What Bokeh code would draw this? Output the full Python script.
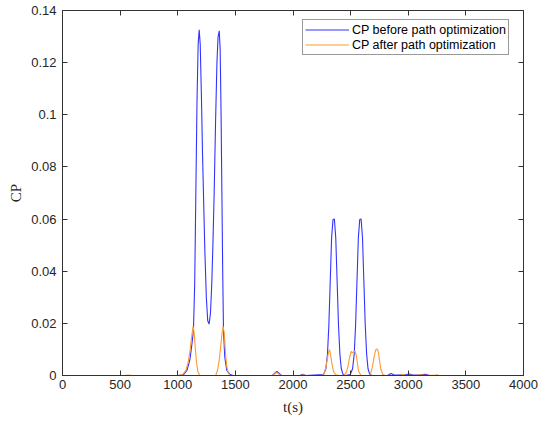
from bokeh.plotting import figure
from bokeh.models import (Range1d, FixedTicker, LinearAxis, CustomJSTickFormatter,
                          Legend, LegendItem)
from bokeh.embed import file_html
from bokeh.resources import INLINE

# ---- data ----
t_before = [0, 1000, 1050, 1080, 1105, 1120, 1136, 1147, 1157, 1167, 1177, 1186, 1195, 1205,
            1215, 1223, 1235, 1248, 1260, 1272, 1284, 1295, 1305, 1316, 1328, 1340, 1350,
            1360, 1368, 1376, 1383, 1390, 1397, 1408, 1425, 1450, 1480,
            1820, 1840, 1860, 1880, 1900, 2060, 2085, 2110,
            2265, 2285, 2299, 2311, 2323, 2335, 2347, 2359, 2371, 2383, 2395, 2407, 2419, 2434, 2455,
            2497, 2517, 2531, 2543, 2555, 2567, 2579, 2591, 2603, 2615, 2627, 2639, 2651, 2666, 2687,
            2820, 2850, 2875, 2920, 2980, 3010, 3040, 3100, 3150, 3180, 3280]
cp_before = [0, 0, 0.0003, 0.002, 0.006, 0.011, 0.017, 0.035, 0.07, 0.105, 0.127, 0.1326, 0.127, 0.108,
             0.085, 0.07, 0.048, 0.03, 0.021, 0.0197, 0.024, 0.035, 0.05, 0.07, 0.097, 0.12, 0.13,
             0.1322, 0.125, 0.1, 0.07, 0.04, 0.017, 0.007, 0.002, 0.0005, 0,
             0, 0.0008, 0.0016, 0.0008, 0, 0, 0.0005, 0,
             0.0004, 0.0026, 0.0081, 0.0192, 0.036, 0.0528, 0.0598, 0.06, 0.0528, 0.036, 0.0192, 0.0081, 0.0026, 0.0004, 0,
             0.0004, 0.0026, 0.0081, 0.0192, 0.036, 0.0528, 0.0598, 0.06, 0.0528, 0.036, 0.0192, 0.0081, 0.0026, 0.0004, 0,
             0, 0.0008, 0.0003, 0.0002, 0.0004, 0.0006, 0.0002, 0.0003, 0.0005, 0.0001, 0]

t_after = [0, 540, 570, 600, 1000, 1040, 1070, 1090, 1105, 1118, 1133, 1143, 1153, 1163, 1175, 1190,
           1330, 1345, 1360, 1372, 1384, 1394, 1404, 1414, 1424, 1437, 1455,
           1820, 1840, 1858, 1875, 1895, 2070, 2090, 2110,
           2255, 2270, 2285, 2298, 2310, 2317, 2326, 2338, 2352, 2370, 2400,
           2440, 2460, 2475, 2490, 2505, 2515, 2525, 2537, 2548, 2558, 2570, 2590,
           2660, 2675, 2690, 2705, 2718, 2728, 2738, 2750, 2762, 2778, 2800,
           2930, 2955, 2980, 3080, 3110, 3140, 3230, 3250, 3270, 3705]
cp_after = [0, 0, 0.0002, 0, 0, 0.0003, 0.002, 0.005, 0.009, 0.014, 0.019, 0.016, 0.01, 0.005, 0.0015, 0,
            0, 0.002, 0.006, 0.011, 0.016, 0.0189, 0.016, 0.009, 0.004, 0.001, 0,
            0, 0.0006, 0.0012, 0.0006, 0, 0, 0.0003, 0,
            0, 0.0008, 0.003, 0.0065, 0.0093, 0.0099, 0.008, 0.0045, 0.0015, 0.0003, 0,
            0, 0.001, 0.003, 0.0068, 0.0092, 0.0088, 0.009, 0.0094, 0.008, 0.005, 0.0015, 0,
            0, 0.001, 0.0035, 0.0075, 0.0098, 0.0102, 0.0095, 0.006, 0.0025, 0.0005, 0,
            0, 0.0005, 0, 0.0002, 0.0003, 0.0001, 0.0001, 0.0003, 0, 0]

x_ticks = [0, 500, 1000, 1500, 2000, 2500, 3000, 3500, 4000]
y_ticks = [0, 0.02, 0.04, 0.06, 0.08, 0.1, 0.12, 0.14]
series_labels = ["CP before path optimization", "CP after path optimization"]
series_colors = ["#3333ff", "#ff9933"]

AXIS_COL = "#333333"
TICK_FONT = "Liberation Sans"

p = figure(frame_width=461, frame_height=365, output_backend="svg", toolbar_location=None,
           min_border_left=62, min_border_right=16, min_border_top=10, min_border_bottom=48,
           x_range=Range1d(0, 4000), y_range=Range1d(0, 0.14))
p.xgrid.visible = False
p.ygrid.visible = False
p.outline_line_color = AXIS_COL
p.outline_line_width = 1

r1 = p.line(t_before, cp_before, line_color=series_colors[0], line_width=1.1)
r2 = p.line(t_after, cp_after, line_color=series_colors[1], line_width=1.1)

fmt = CustomJSTickFormatter(code=r"return tick.toFixed(2).replace(/\.?0+$/, '');")
blank = CustomJSTickFormatter(code="return '';")

xa = p.xaxis[0]
ya = p.yaxis[0]
xa.ticker = FixedTicker(ticks=x_ticks)
ya.ticker = FixedTicker(ticks=y_ticks)
ya.formatter = fmt
for ax in (xa, ya):
    ax.major_tick_in = 5
    ax.major_tick_out = 0
    ax.minor_tick_in = 0
    ax.minor_tick_out = 0
    ax.axis_line_color = AXIS_COL
    ax.major_tick_line_color = AXIS_COL
    ax.major_label_text_font = TICK_FONT
    ax.major_label_text_font_size = "13px"
    ax.major_label_text_color = "#262626"
    ax.axis_label_text_font = "Liberation Serif"
    ax.axis_label_text_font_size = "15px"
    ax.axis_label_text_font_style = "normal"
    ax.axis_label_text_color = "#262626"
xa.axis_label = "t(s)"
ya.axis_label = "CP"
xa.major_label_standoff = 4
xa.axis_label_standoff = 7
ya.major_label_standoff = 6
ya.axis_label_standoff = 4

# mirror ticks on top / right
top = LinearAxis(ticker=FixedTicker(ticks=x_ticks), formatter=blank,
                 major_tick_in=5, major_tick_out=0, minor_tick_in=0, minor_tick_out=0,
                 axis_line_color=AXIS_COL, major_tick_line_color=AXIS_COL, major_label_standoff=0)
right = LinearAxis(ticker=FixedTicker(ticks=y_ticks), formatter=blank,
                   major_tick_in=5, major_tick_out=0, minor_tick_in=0, minor_tick_out=0,
                   axis_line_color=AXIS_COL, major_tick_line_color=AXIS_COL, major_label_standoff=0)
p.add_layout(top, "above")
p.add_layout(right, "right")

legend = Legend(items=[LegendItem(label=series_labels[0], renderers=[r1]),
                       LegendItem(label=series_labels[1], renderers=[r2])],
                location=(240, 320))
legend.label_text_font = TICK_FONT
legend.label_text_font_size = "12.5px"
legend.label_text_color = "#000000"
legend.glyph_width = 44
legend.glyph_height = 15
legend.label_height = 15
legend.label_standoff = 3
legend.spacing = 0
legend.padding = 2
legend.margin = 0
legend.border_line_color = AXIS_COL
legend.border_line_width = 1
legend.background_fill_alpha = 1
p.add_layout(legend, "center")

open("out.html", "w").write(file_html(p, INLINE))
